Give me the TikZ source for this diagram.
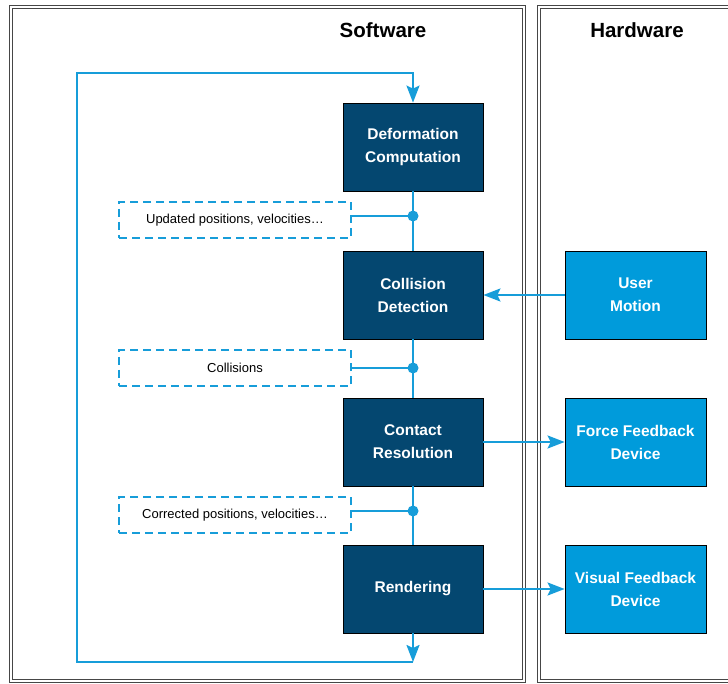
\documentclass[tikz,border=0pt]{standalone}
\usepackage{fontspec}
\setmainfont{Liberation Sans}
\usepackage{tikz}
\usetikzlibrary{arrows.meta}
\usetikzlibrary{shapes, calc}
\definecolor{darkblue}{RGB}{4,71,112}
\definecolor{lightblue}{RGB}{0,155,219}
\definecolor{linkblue}{RGB}{23,157,217}
\definecolor{framegray}{RGB}{70,70,70}

\begin{document}
\begin{tikzpicture}[x=1pt, y=-1pt,
				   frame/.style={draw=framegray, line width=1pt, double=white, double distance=2.6pt},
				   title/.style={font=\fontsize{20.5}{24}\selectfont\bfseries},
				   soft/.style={rectangle, draw=black, line width=0.8pt, fill=darkblue, text=white, align=center,
				                minimum width=140pt, minimum height=88pt, font=\fontsize{15.5}{23}\selectfont\bfseries},
				   hard/.style={soft, fill=lightblue, minimum width=141pt},
				   data/.style={rectangle, draw=linkblue, dashed, dash pattern=on 8pt off 5pt, line width=1.8pt,
				                minimum width=232pt, minimum height=36pt, font=\fontsize{13}{15}\selectfont},
				   link/.style={draw=linkblue, line width=2pt},
				   arrow/.style={link, -{Stealth[length=17pt, width=13pt, inset=3pt]}}]
\path[use as bounding box, clip] (0,0) rectangle (728,684);
\draw[frame] (11,7) rectangle (524,681);
\draw[frame] (539,7) rectangle (760,681);
\node[title] (sw) at (383,30) {Software};
\node[title] (hw) at (637,30) {Hardware};

\node[soft] (deform) at (413,147) {Deformation\\Computation};
\node[soft] (coll) at (413,295) {Collision\\Detection};
\node[soft] (contact) at (413,442) {Contact\\Resolution};
\node[soft] (render) at (413,589) {Rendering};

\node[hard] (user) at (635.5,295) {User\\Motion};
\node[hard] (force) at (635.5,442) {Force Feedback\\Device};
\node[hard] (visual) at (635.5,589) {Visual Feedback\\Device};

\node[data] (upd) at (235,220) {Updated positions, velocities…};
\node[data] (cols) at (235,368) {Collisions};
\node[data] (corr) at (235,515) {Corrected positions, velocities…};

\coordinate (dot1) at (413,216);
\coordinate (dot2) at (413,368);
\coordinate (dot3) at (413,511);
\coordinate (loopb) at (413,662);
\coordinate (loopt) at (413,73);
\coordinate (cornb) at (77,662);
\coordinate (cornt) at (77,73);

\draw[link] (deform.south) -- (dot1) -- (coll.north);
\draw[link] (coll.south) -- (dot2) -- (contact.north);
\draw[link] (contact.south) -- (dot3) -- (render.north);
\draw[link] (dot1) -- (dot1 -| upd.east);
\draw[link] (dot2) -- (dot2 -| cols.east);
\draw[link] (dot3) -- (dot3 -| corr.east);
\fill[linkblue] (dot1) circle (5.5);
\fill[linkblue] (dot2) circle (5.5);
\fill[linkblue] (dot3) circle (5.5);

\draw[arrow] (user.west) -- (coll.east);
\draw[arrow] (contact.east) -- (force.west);
\draw[arrow] (render.east) -- (visual.west);

\draw[arrow] (render.south) -- (loopb);
\draw[arrow] (loopb) -- (cornb) -- (cornt) -- (loopt) -- (deform.north);
\end{tikzpicture}
\end{document}
